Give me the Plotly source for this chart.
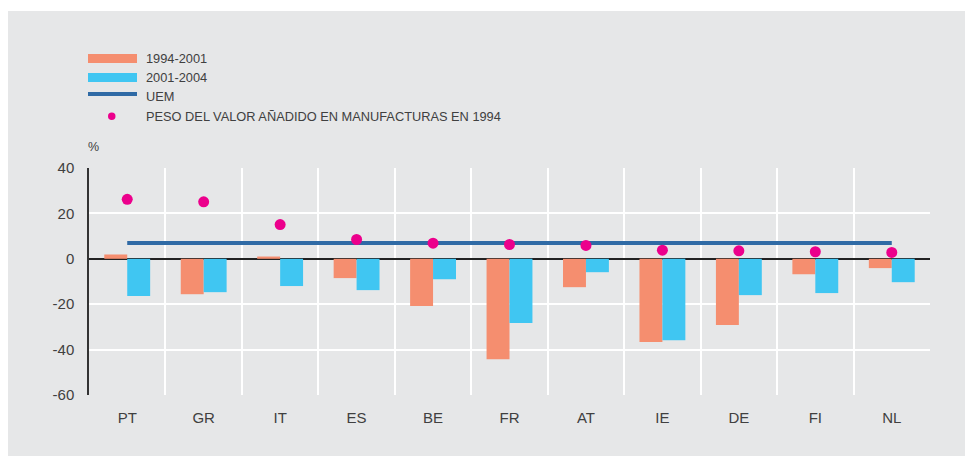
import plotly.graph_objects as go

countries = ["PT", "GR", "IT", "ES", "BE", "FR", "AT", "IE", "DE", "FI", "NL"]
p1994_2001 = [1.9, -15.6, 1.0, -8.5, -20.8, -44.3, -12.5, -36.7, -29.2, -6.8, -4.1]
p2001_2004 = [-16.4, -14.7, -12.0, -13.8, -9.0, -28.3, -5.9, -35.9, -16.0, -15.1, -10.3]
uem = [7.0] * len(countries)
peso_manuf_1994 = [26.2, 25.1, 15.1, 8.5, 6.9, 6.3, 5.9, 3.8, 3.5, 3.1, 2.8]
legend_labels = ["1994-2001", "2001-2004", "UEM", "PESO DEL VALOR AÑADIDO EN MANUFACTURAS EN 1994"]
y_tickvals = [-60, -40, -20, 0, 20, 40]
y_ticktext = ["-60", "-40", "-20", "0", "20", "40"]

ORANGE = "#f58e6f"
BLUE = "#40c6f2"
LINE = "#2f6aa5"
DOT = "#ec008c"
BG = "#e6e7e8"
TXT = "#404040"
FONT = "Liberation Sans, Arial, sans-serif"

OFF = 8  # page body margin
W, H = 973 - OFF, 459 - OFF
# plot area in page pixels
PL, PR, PT_, PB = 89, 930, 168, 395
L, R, T, B = PL - OFF, PR - OFF, PT_ - OFF, PB - OFF

def xp(px):
    return (px - PL) / (PR - PL)

def yp(py):
    return (PB - py) / (PB - PT_)

fig = go.Figure()
fig.add_trace(go.Bar(x=countries, y=p1994_2001, name=legend_labels[0],
                     marker=dict(color=ORANGE, line=dict(width=0)), showlegend=False))
fig.add_trace(go.Bar(x=countries, y=p2001_2004, name=legend_labels[1],
                     marker=dict(color=BLUE, line=dict(width=0)), showlegend=False))
fig.add_trace(go.Scatter(x=countries, y=uem, name=legend_labels[2], mode="lines",
                         line=dict(color=LINE, width=4), showlegend=False))
fig.add_trace(go.Scatter(x=countries, y=peso_manuf_1994, name=legend_labels[3], mode="markers",
                         marker=dict(color=DOT, size=11), showlegend=False))

shapes = [
    # grey panel
    dict(type="rect", xref="paper", yref="paper", x0=xp(0), x1=xp(969), y0=yp(11), y1=yp(456),
         fillcolor=BG, line=dict(width=0), layer="below"),
    # legend swatches
    dict(type="rect", xref="paper", yref="paper", x0=xp(88), x1=xp(137), y0=yp(54), y1=yp(63),
         fillcolor=ORANGE, line=dict(width=0)),
    dict(type="rect", xref="paper", yref="paper", x0=xp(88), x1=xp(137), y0=yp(73), y1=yp(82),
         fillcolor=BLUE, line=dict(width=0)),
    dict(type="line", xref="paper", yref="paper", x0=xp(88), x1=xp(137), y0=yp(94), y1=yp(94),
         line=dict(color=LINE, width=4)),
    dict(type="circle", xref="paper", yref="paper", x0=xp(108), x1=xp(115.5), y0=yp(112.5), y1=yp(120),
         fillcolor=DOT, line=dict(width=0)),
]

annotations = []
for lab, py in zip(legend_labels, [58.5, 77.5, 96.5, 116.5]):
    annotations.append(dict(text=lab, xref="paper", yref="paper", x=xp(144), y=yp(py),
                            xanchor="left", yanchor="middle", showarrow=False,
                            font=dict(size=12.8, color=TXT, family=FONT)))
annotations.append(dict(text="%", xref="paper", yref="paper", x=xp(86), y=yp(147),
                        xanchor="left", yanchor="middle", showarrow=False,
                        font=dict(size=12.5, color=TXT, family=FONT)))

fig.update_layout(
    width=W, height=H,
    margin=dict(l=L, r=W - R, t=T, b=H - B, pad=0),
    paper_bgcolor="white",
    plot_bgcolor=BG,
    barmode="group", bargap=0.4, bargroupgap=0,
    shapes=shapes, annotations=annotations,
    font=dict(family=FONT, color=TXT),
    xaxis=dict(type="category", tickson="boundaries", showgrid=True, gridcolor="white", gridwidth=2,
               ticks="", tickfont=dict(size=15, color=TXT), ticklabelstandoff=12,
               showline=False, zeroline=False, range=[-0.5, 10.5]),
    yaxis=dict(range=[-60, 40], tickvals=y_tickvals, ticktext=y_ticktext, showgrid=True,
               gridcolor="white", gridwidth=2, zeroline=True, zerolinecolor="#222222",
               zerolinewidth=1.5, showline=True, linecolor="#333333", linewidth=1.5,
               ticks="", tickfont=dict(size=15, color=TXT), ticklabelstandoff=10),
)

fig.write_html("out.html")
